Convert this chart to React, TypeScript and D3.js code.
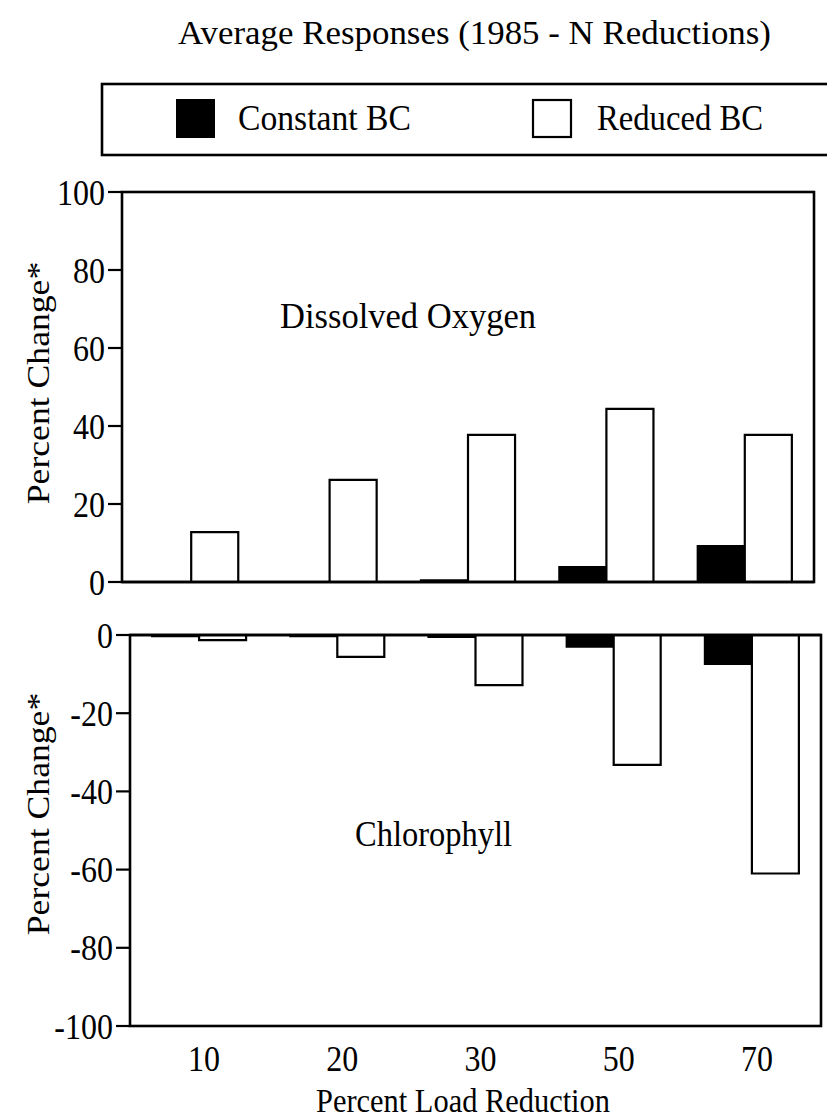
import React from "react";
import * as d3 from "d3";

const categories = ["10", "20", "30", "50", "70"];
const seriesNames = ["Constant BC", "Reduced BC"];
const doConstant = [0, 0, 0.4, 3.8, 9.2];
const doReduced = [12.8, 26.2, 37.7, 44.4, 37.7];
const chlConstant = [-0.3, -0.3, -0.5, -3.0, -7.4];
const chlReduced = [-1.3, -5.6, -12.8, -33.2, -61.0];
const doTicks = [0, 20, 40, 60, 80, 100];
const chlTicks = [0, -20, -40, -60, -80, -100];

const FONT = "'Liberation Serif', 'Times New Roman', Times, serif";
const fills = ["#000", "#fff"];
const S = 1.15;

type TProps = {
  x: number; y: number; size: number; anchor?: string; len?: number; dy?: string; rotate?: boolean; children: React.ReactNode;
};
function T({ x, y, size, anchor, len, dy, rotate, children }: TProps) {
  const tr = `translate(${x},${y}) scale(1,${S})` + (rotate ? " rotate(-90)" : "");
  return (
    <text transform={tr} textAnchor={anchor || "start"} dy={dy} fontSize={size} fontFamily={FONT}
      textLength={len} lengthAdjust={len ? "spacingAndGlyphs" : undefined} fill="#000">
      {children}
    </text>
  );
}

type PanelProps = {
  x0: number; x1: number; yTop: number; yBot: number;
  domain: [number, number]; ticks: number[];
  series: number[][]; label: string; labelX: number; labelY: number; labelW: number;
  yTitleY: number; tickLabelX: number;
};

function Panel(p: PanelProps) {
  const x = d3.scaleBand<string>().domain(categories).range([p.x0, p.x1]).paddingInner(0.32).paddingOuter(0.16);
  const xs = d3.scaleBand<string>().domain(seriesNames).range([0, x.bandwidth()]);
  const y = d3.scaleLinear().domain(p.domain).range([p.yBot, p.yTop]);
  const zero = y(0);
  return (
    <g>
      {p.series.map((vals, si) =>
        vals.map((v, ci) => {
          const bx0 = (x(categories[ci]) as number) + (xs(seriesNames[si]) as number);
          const bx1 = bx0 + xs.bandwidth();
          const by = y(v);
          const path = d3.path();
          path.moveTo(bx0, zero);
          path.lineTo(bx1, zero);
          path.lineTo(bx1, by);
          path.lineTo(bx0, by);
          path.closePath();
          return <path key={si + "-" + ci} d={path.toString()} fill={fills[si]} stroke="#000" strokeWidth={2.2} />;
        })
      )}
      <rect x={p.x0} y={p.yTop} width={p.x1 - p.x0} height={p.yBot - p.yTop} fill="none" stroke="#000" strokeWidth={2.6} />
      <line x1={p.x0} x2={p.x1} y1={zero} y2={zero} stroke="#000" strokeWidth={2.6} />
      {p.ticks.map((t) => (
        <g key={t}>
          <line x1={p.x0 - 14} x2={p.x0} y1={y(t)} y2={y(t)} stroke="#000" strokeWidth={2.2} />
          <T x={p.tickLabelX} y={y(t)} dy="0.34em" anchor="end" size={32}>{t}</T>
        </g>
      ))}
      <T x={p.labelX} y={p.labelY} size={32} len={p.labelW}>{p.label}</T>
      <T x={49} y={p.yTitleY} size={31} anchor="middle" rotate>Percent Change*</T>
    </g>
  );
}

export default function App() {
  const xb = d3.scaleBand<string>().domain(categories).range([130, 821]).paddingInner(0.32).paddingOuter(0.16);
  return (
    <svg width={827} height={1120} style={{ position: "absolute", left: 0, top: 0, background: "#fff" }}>
      <rect x={0} y={0} width={827} height={1120} fill="#fff" />
      <T x={178} y={44} size={30} len={593}>Average Responses (1985 - N Reductions)</T>
      <rect x={102} y={84} width={760} height={71} fill="none" stroke="#000" strokeWidth={2.6} />
      <rect x={176} y={99} width={39} height={39} fill="#000" />
      <T x={238} y={130} size={31} len={173}>{seriesNames[0]}</T>
      <rect x={533} y={100} width={38} height={37} fill="#fff" stroke="#000" strokeWidth={2.2} />
      <T x={597} y={130} size={31} len={166}>{seriesNames[1]}</T>
      <Panel x0={122} x1={814} yTop={192} yBot={582} domain={[0, 100]} ticks={doTicks}
        series={[doConstant, doReduced]} label="Dissolved Oxygen" labelX={280} labelY={328} labelW={256}
        yTitleY={383} tickLabelX={105} />
      <Panel x0={130} x1={821} yTop={635} yBot={1026} domain={[-100, 0]} ticks={chlTicks}
        series={[chlConstant, chlReduced]} label="Chlorophyll" labelX={355} labelY={846} labelW={157}
        yTitleY={814} tickLabelX={113} />
      {categories.map((c) => (
        <T key={c} x={(xb(c) as number) + xb.bandwidth() / 2 + 5} y={1071} anchor="middle" size={32}>{c}</T>
      ))}
      <T x={463} y={1112} anchor="middle" size={30} len={294}>Percent Load Reduction</T>
    </svg>
  );
}
